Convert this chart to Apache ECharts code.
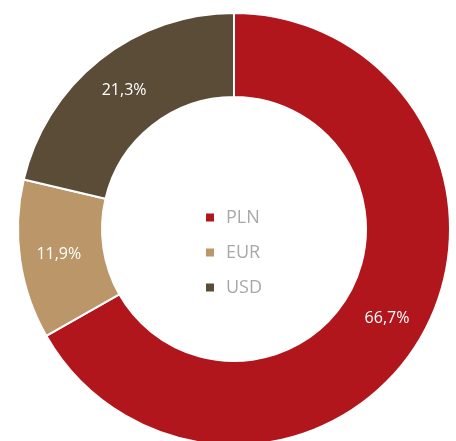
<!DOCTYPE html>
<html>
<head>
<meta charset="utf-8">
<script src="https://cdn.jsdelivr.net/npm/echarts@6/dist/echarts.min.js"></script>
<style>
html, body { margin: 0; padding: 0; background: #fff; }
#main { width: 456px; height: 441px; }
</style>
</head>
<body>
<div id="main"></div>
<script>
// currency split
var categories = ['PLN', 'EUR', 'USD'];
var shares = [66.7, 11.9, 21.3];
var colors = ['#b0161c', '#bb9668', '#5a4c37'];

var myChart = echarts.init(document.getElementById('main'));

var pieData = categories.map(function (name, i) {
    return { name: name, value: shares[i] };
});

var option = {
    color: colors,
    legend: {
        orient: 'vertical',
        left: 199,
        top: 203,
        icon: 'rect',
        itemWidth: 10,
        itemHeight: 10,
        itemGap: 16,
        textStyle: {
            color: '#a8a8a8',
            fontFamily: 'Open Sans',
            fontSize: 18,
            lineHeight: 19,
            padding: [0, 0, 0, 6]
        },
        data: categories
    },
    series: [
        {
            type: 'pie',
            center: [234, 229],
            radius: [132, 216],
            startAngle: 90,
            clockwise: true,
            silent: true,
            itemStyle: {
                borderColor: '#fff',
                borderWidth: 2
            },
            label: {
                position: 'inside',
                color: '#fff',
                fontFamily: 'Open Sans',
                fontSize: 16,
                formatter: function (p) {
                    return p.value.toFixed(1).replace('.', ',') + '%';
                }
            },
            labelLine: { show: false },
            data: pieData
        }
    ]
};
myChart.setOption(option);

window.addEventListener('resize', function () {
    myChart.resize();
});
</script>
</body>
</html>
